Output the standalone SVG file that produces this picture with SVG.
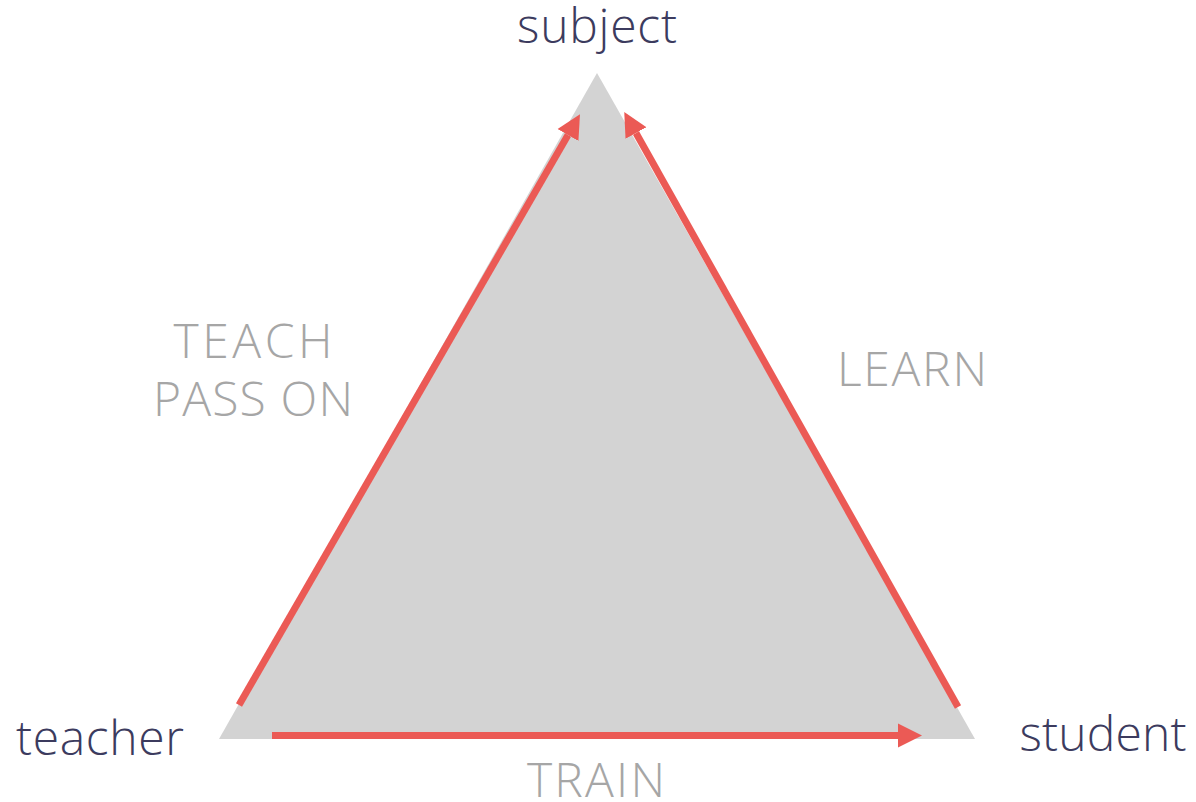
<svg xmlns="http://www.w3.org/2000/svg" width="1196" height="802" viewBox="0 0 1196 802">
<style>
.node{font-family:"Open Sans","Lato","Liberation Sans",sans-serif;font-weight:300;font-size:48px;fill:#3c3b5e}
.lbl{font-family:"Open Sans","Lato","Liberation Sans",sans-serif;font-weight:300;font-size:48px;fill:#a6a6a6}
.arr{stroke:#eb5a55;stroke-width:7;fill:none}
</style>
<defs>
<marker id="ah" markerUnits="userSpaceOnUse" markerWidth="26" markerHeight="26" viewBox="0 -13 26 26" refX="0" refY="0" orient="auto">
<path d="M0,-12 L24,0 L0,12 z" fill="#eb5a55"/>
</marker>
</defs>
<rect width="1196" height="802" fill="#ffffff"/>
<polygon id="triangle" points="597,73 219,739 975,739" fill="#d3d3d3"/>
<g id="connectors">
<line class="arr" x1="239" y1="705" x2="568" y2="135" marker-end="url(#ah)"/>
<line class="arr" x1="958" y1="707" x2="636" y2="133" marker-end="url(#ah)"/>
<line class="arr" x1="272" y1="735.5" x2="898" y2="735.5" marker-end="url(#ah)"/>
</g>
<g id="subject"><text class="node" x="597" y="43" text-anchor="middle" textLength="160">subject</text></g>
<g id="teacher"><text class="node" x="100" y="755" text-anchor="middle" textLength="168">teacher</text></g>
<g id="student"><text class="node" x="1103" y="751" text-anchor="middle" textLength="167">student</text></g>
<g id="label-teach"><text class="lbl" x="253" y="358" text-anchor="middle" textLength="159">TEACH</text><text class="lbl" x="253" y="416" text-anchor="middle" textLength="200">PASS ON</text></g>
<g id="label-learn"><text class="lbl" x="912" y="386" text-anchor="middle" textLength="150">LEARN</text></g>
<g id="label-train"><text class="lbl" x="596" y="797" text-anchor="middle" textLength="138">TRAIN</text></g>
</svg>
